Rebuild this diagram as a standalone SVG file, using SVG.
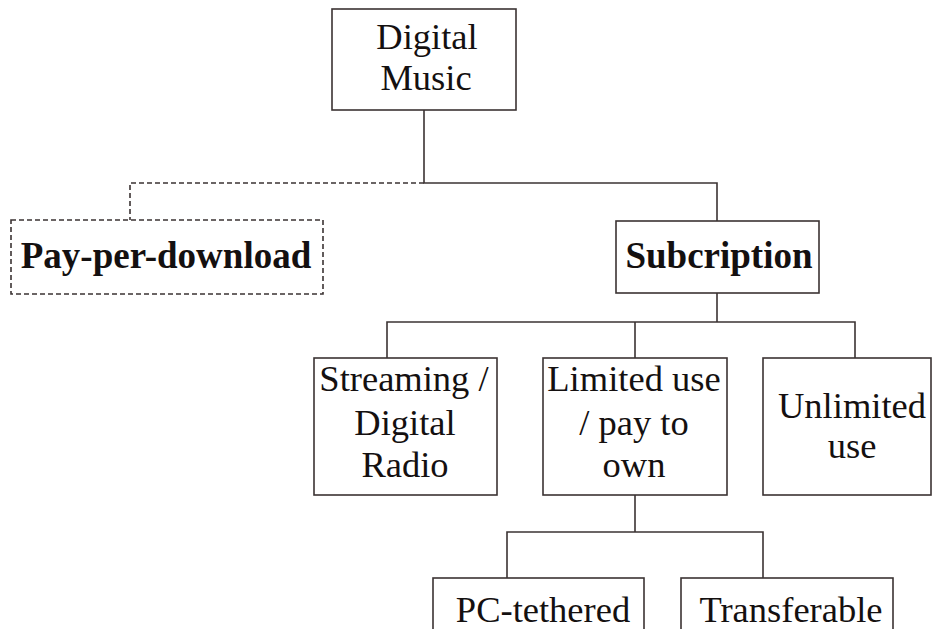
<svg xmlns="http://www.w3.org/2000/svg" width="936" height="629" viewBox="0 0 936 629">
<style>
.box{fill:#fff;stroke:#3b3333;stroke-width:1.6}
.dash{stroke-dasharray:5 3}
.ln{fill:none;stroke:#3b3333;stroke-width:1.6}
text{font-family:"Liberation Serif","Times New Roman",serif;font-size:36.5px;fill:#141010;text-anchor:middle}
.b{font-weight:bold;font-size:37px}
</style>
<rect width="936" height="629" fill="#fff"/>
<g id="connectors">
<path class="ln" d="M424,110V183H717V221"/>
<path class="ln dash" d="M424,183H130V220"/>
<path class="ln" d="M717,293V322M387,358V322H855V358M635,322V358"/>
<path class="ln" d="M635,495V532M507,578V532H763V578"/>
</g>
<g id="digital-music">
<rect class="box" x="332" y="9" width="184" height="101"/>
<text x="427" y="49">Digital</text>
<text x="426" y="90">Music</text>
</g>
<g id="pay-per-download">
<rect class="box dash" x="11" y="220" width="312" height="74"/>
<text class="b" x="166" y="268">Pay-per-download</text>
</g>
<g id="subcription">
<rect class="box" x="616" y="221" width="203" height="72"/>
<text class="b" x="719" y="268">Subcription</text>
</g>
<g id="streaming">
<rect class="box" x="314" y="358" width="183" height="137"/>
<text x="404" y="391">Streaming /</text>
<text x="405" y="435">Digital</text>
<text x="405" y="477">Radio</text>
</g>
<g id="limited-use">
<rect class="box" x="543" y="358" width="184" height="137"/>
<text x="634" y="391">Limited use</text>
<text x="634" y="435">/ pay to</text>
<text x="634" y="477">own</text>
</g>
<g id="unlimited-use">
<rect class="box" x="763" y="358" width="168" height="137"/>
<text x="852" y="418">Unlimited</text>
<text x="852" y="458">use</text>
</g>
<g id="pc-tethered">
<rect class="box" x="433" y="578" width="211" height="80"/>
<text x="543" y="622">PC-tethered</text>
</g>
<g id="transferable">
<rect class="box" x="681" y="578" width="212" height="80"/>
<text x="791" y="622">Transferable</text>
</g>
</svg>
